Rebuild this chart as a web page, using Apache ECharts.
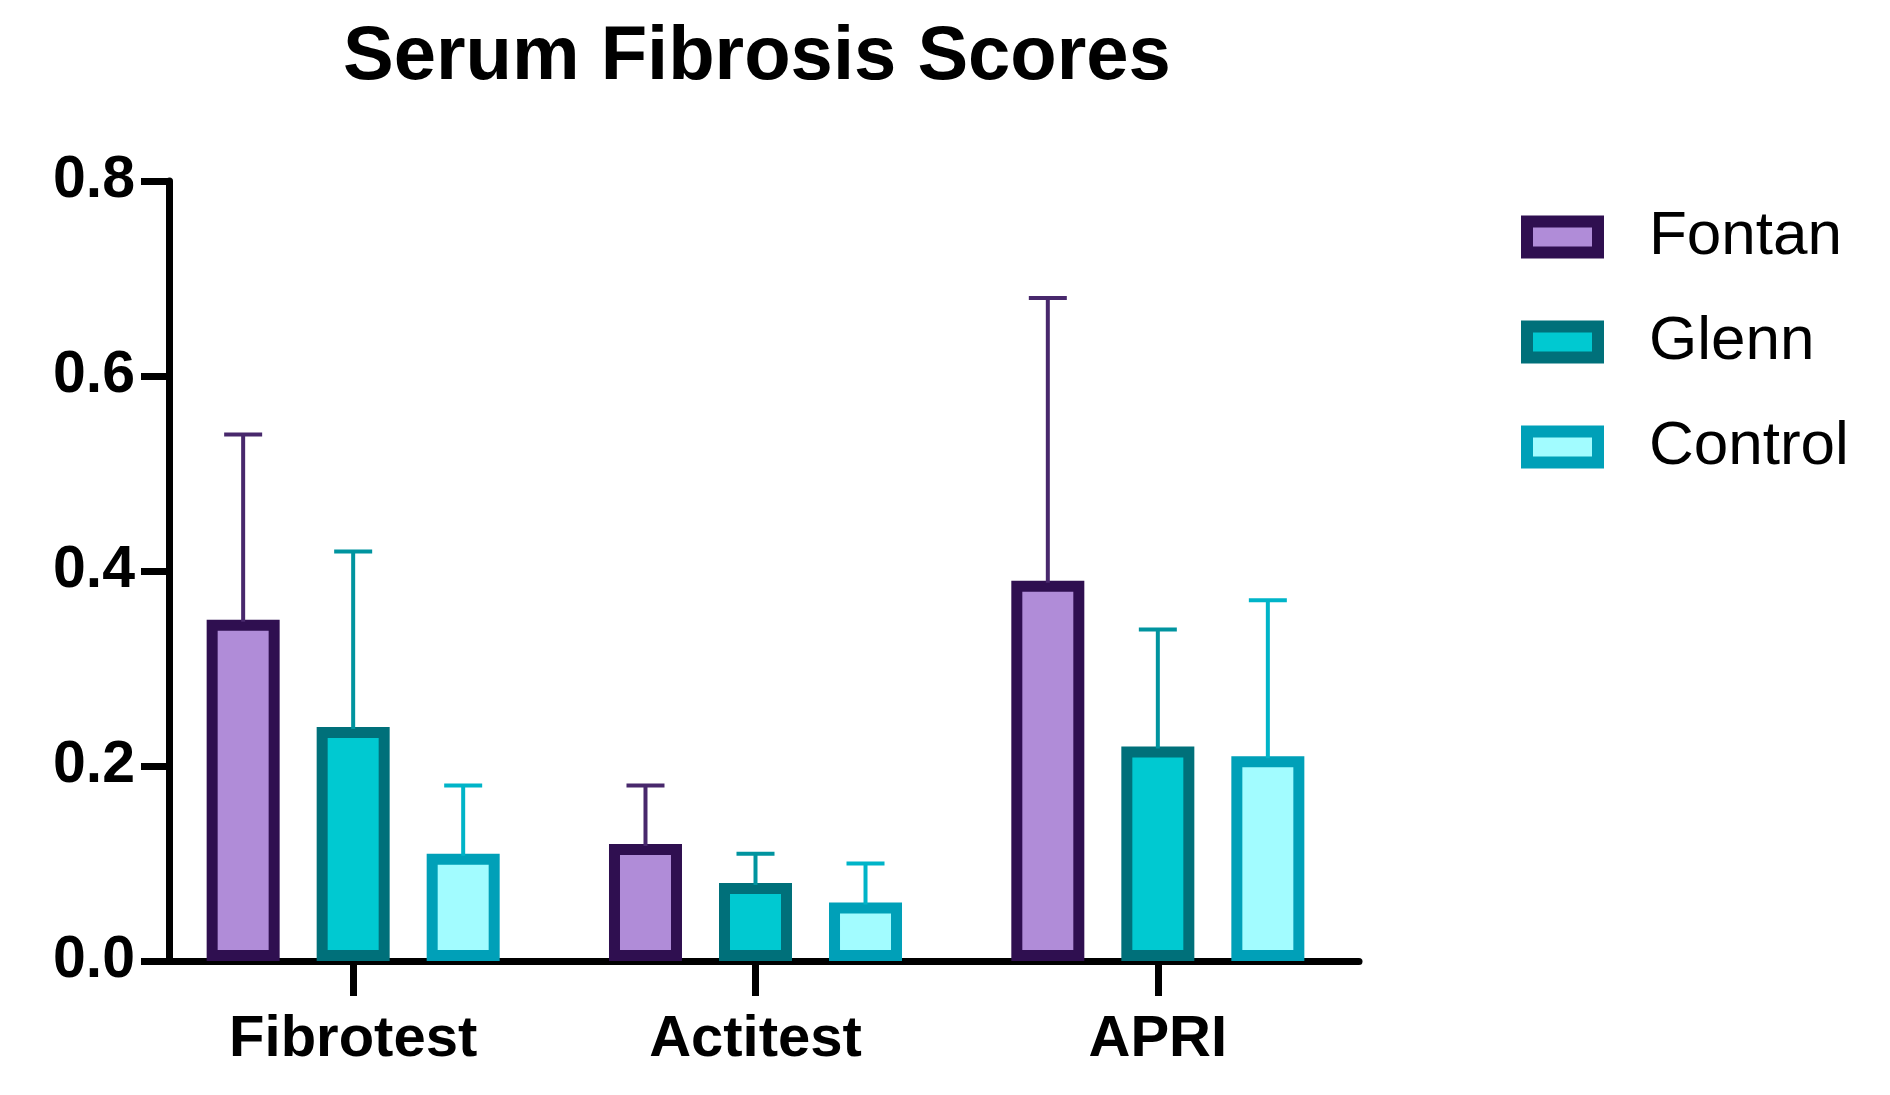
<!DOCTYPE html>
<html>
<head>
<meta charset="utf-8">
<title>Serum Fibrosis Scores</title>
<script src="https://cdn.jsdelivr.net/npm/echarts@6/dist/echarts.min.js"></script>
<style>
  html, body { margin: 0; padding: 0; background: #fff; }
  #chart { width: 1890px; height: 1095px; }
</style>
</head>
<body>
<div id="chart"></div>
<script>
const categories = ['Fibrotest', 'Actitest', 'APRI']
const groups = ['Fontan', 'Glenn', 'Control']
const yTicks = [0, 0.2, 0.4, 0.6, 0.8]

// mean values per group
const fontanMean  = [0.35, 0.12, 0.39]
const glennMean   = [0.24, 0.08, 0.22]
const controlMean = [0.11, 0.06, 0.21]

// upper end of error bar per group
const fontanUpper  = [0.54, 0.18, 0.68]
const glennUpper   = [0.42, 0.11, 0.34]
const controlUpper = [0.18, 0.10, 0.37]

const FILL   = ['#b08cd8', '#00c9d1', '#a2fcff']
const BORDER = ['#2f0f50', '#00707a', '#00a0b8']
const ERRCOL = ['#48286c', '#00949f', '#00b4c8']

const FONT = '"Liberation Sans", Arial, Helvetica, sans-serif'
const BAR_W = 73
const BAR_GAP = 0.507
const BORDER_W = 11

const means  = [fontanMean, glennMean, controlMean]
const uppers = [fontanUpper, glennUpper, controlUpper]

const chart = echarts.init(document.getElementById('chart'))

const barSeries = groups.map((g, i) => ({
  name: g,
  type: 'bar',
  barWidth: BAR_W,
  barGap: (BAR_GAP * 100) + '%',
  itemStyle: { color: FILL[i], borderColor: BORDER[i], borderWidth: BORDER_W },
  emphasis: { disabled: true },
  data: means[i],
  z: 2,
}))

const errSeries = groups.map((g, i) => ({
  type: 'custom',
  silent: true,
  z: 3,
  data: categories.map((c, k) => [k, means[i][k], uppers[i][k]]),
  renderItem: (params, api) => {
    const base = api.coord([api.value(0), api.value(1)])
    const top  = api.coord([api.value(0), api.value(2)])
    const dx = (i - 1) * BAR_W * (1 + BAR_GAP)
    const x = base[0] + dx
    const half = 19
    const style = { stroke: ERRCOL[i], lineWidth: 4 }
    return {
      type: 'group',
      children: [
        { type: 'line', shape: { x1: x, y1: base[1] + 2, x2: x, y2: top[1] }, style },
        { type: 'line', shape: { x1: x - half, y1: top[1], x2: x + half, y2: top[1] }, style },
      ],
    }
  },
}))

chart.setOption({
  backgroundColor: '#fff',
  animation: false,
  title: {
    text: 'Serum Fibrosis Scores',
    left: 338,
    top: 15,
    textStyle: { fontFamily: FONT, fontWeight: 'bold', fontSize: 76, color: '#000' },
  },
  legend: {
    orient: 'vertical',
    left: 1521,
    top: 206,
    padding: 0,
    icon: 'rect',
    itemWidth: 71,
    itemHeight: 31,
    itemGap: 43,
    textStyle: { fontFamily: FONT, fontSize: 62, color: '#000', lineHeight: 62, padding: [0, 0, 0, 46] },
    data: groups.map((g, i) => ({
      name: g,
      itemStyle: { color: FILL[i], borderColor: BORDER[i], borderWidth: 12 },
    })),
  },
  grid: { left: 152, right: 531, top: 181, bottom: 134 },
  xAxis: {
    type: 'category',
    data: categories,
    axisLine: { show: true, lineStyle: { color: '#000', width: 7 } },
    axisTick: { show: true, alignWithLabel: true, length: 35, lineStyle: { color: '#000', width: 7 } },
    axisLabel: { fontFamily: FONT, fontWeight: 'bold', fontSize: 58, color: '#000', margin: 50 },
  },
  yAxis: {
    type: 'value',
    min: yTicks[0],
    max: yTicks[yTicks.length - 1],
    interval: 0.2,
    offset: -17,
    axisLine: { show: true, lineStyle: { color: '#000', width: 7 } },
    axisTick: { show: true, length: 28, lineStyle: { color: '#000', width: 7 } },
    splitLine: { show: false },
    axisLabel: {
      fontFamily: FONT, fontWeight: 'bold', fontSize: 59, color: '#000', margin: 34,
      formatter: v => v.toFixed(1),
    },
  },
  series: [...barSeries, ...errSeries],
})
</script>
</body>
</html>
